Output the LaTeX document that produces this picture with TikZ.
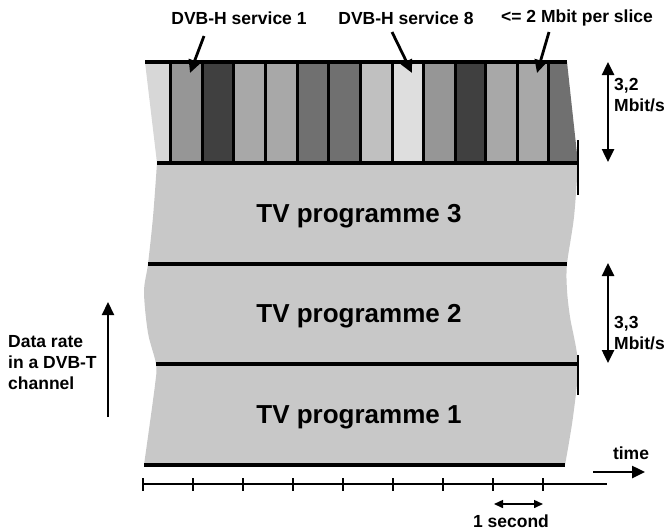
\documentclass[tikz,border=0pt]{standalone}
\usepackage{fontspec}
\setmainfont{Liberation Sans}
\usetikzlibrary{arrows.meta, positioning}
\definecolor{BandGray}{RGB}{200,200,200}
\definecolor{SlicePale}{RGB}{222,222,222}
\definecolor{SliceLight}{RGB}{215,215,215}
\definecolor{SliceSoft}{RGB}{192,192,192}
\definecolor{SliceMid}{RGB}{168,168,168}
\definecolor{SliceMed}{RGB}{150,150,150}
\definecolor{SliceDark}{RGB}{112,112,112}
\definecolor{SliceDeep}{RGB}{64,64,64}

\begin{document}
\begin{tikzpicture}[x=1pt, y=-1pt,
            lbl/.style={font=\fontsize{17.5}{21}\selectfont\bfseries, inner sep=0pt},
            prog/.style={font=\fontsize{26}{30}\selectfont\bfseries},
            rule/.style={line width=3.5pt},
            divider/.style={line width=3pt},
            pointer/.style={-{Triangle[length=13pt,width=12pt]}, line width=2.8pt},
            span/.style={{Triangle[length=13pt,width=12pt]}-{Triangle[length=13pt,width=12pt]}, line width=2.5pt},
            axis/.style={line width=2.2pt}
        ]
        \useasboundingbox (0,0) rectangle (668,531);

        % DVB-T channel body
        \fill[BandGray] plot[smooth] coordinates {(157,163) (153,217) (148,264) (144,292) (148,333) (156,364) (155,385) (144,465)}
            -- plot[smooth] coordinates {(565,465) (573,417) (578,364) (570,317) (567,290) (567,264) (574,217) (578,163)} -- cycle;

        % Time slices of the DVB-H services
        \fill[SliceLight] (145,62) -- (170,62) -- (170,163) -- (157,163) -- cycle;
        \fill[SliceMed] (170,62) rectangle (202,163);
        \fill[SliceDeep] (202,62) rectangle (233,163);
        \fill[SliceMid] (233,62) rectangle (265,163);
        \fill[SliceMid] (265,62) rectangle (297,163);
        \fill[SliceDark] (297,62) rectangle (328,163);
        \fill[SliceDark] (328,62) rectangle (360,163);
        \fill[SliceSoft] (360,62) rectangle (392,163);
        \fill[SlicePale] (392,62) rectangle (423,163);
        \fill[SliceMed] (423,62) rectangle (455,163);
        \fill[SliceDeep] (455,62) rectangle (485,163);
        \fill[SliceMid] (485,62) rectangle (517,163);
        \fill[SliceMid] (517,62) rectangle (548,163);
        \fill[SliceDark] (548,62) -- (567,62) -- (578,163) -- (548,163) -- cycle;
        \draw[divider] (170,62) -- (170,163) (202,62) -- (202,163) (233,62) -- (233,163)
            (265,62) -- (265,163) (297,62) -- (297,163) (328,62) -- (328,163) (360,62) -- (360,163)
            (392,62) -- (392,163) (423,62) -- (423,163) (455,62) -- (455,163) (485,62) -- (485,163)
            (517,62) -- (517,163) (548,62) -- (548,163);

        % Borders between the programmes
        \draw[rule] (145,62) -- (567,62);
        \draw[rule] (157,163) -- (578,163);
        \draw[rule] (148,264) -- (567,264);
        \draw[rule] (156,364) -- (578,364);
        \draw[rule] (144,465) -- (565,465);
        \draw[line width=1.5pt] (578,140) -- (578,195);
        \draw[line width=1.5pt] (578,355) -- (578,395);

        % Programme names
        \node[prog] (tv3) at (359,216) {TV programme 3};
        \node[prog] (tv2) at (359,316) {TV programme 2};
        \node[prog] (tv1) at (359,417) {TV programme 1};

        % Labels pointing at the slices
        \node[lbl] (srv1) at (239,18) {DVB-H service 1};
        \node[lbl] (srv8) at (406,18) {DVB-H service 8};
        \node[lbl] (slc) at (577,18) {<= 2 Mbit per slice};
        \coordinate (srv1tail) at (204,36);
        \coordinate (srv1tip) at (190,73);
        \coordinate (srv8tail) at (392,32);
        \coordinate (srv8tip) at (412,73);
        \coordinate (slctail) at (549,32);
        \coordinate (slctip) at (537,73);
        \draw[pointer] (srv1tail) -- (srv1tip);
        \draw[pointer] (srv8tail) -- (srv8tip);
        \draw[pointer] (slctail) -- (slctip);

        % Data rates on the right
        \coordinate (r32top) at (608,62);
        \coordinate (r32bot) at (608,162);
        \draw[span] (r32top) -- (r32bot);
        \node[lbl, anchor=west, align=left] (r32) at (614,95) {3,2\\Mbit/s};
        \coordinate (r33top) at (608,263);
        \coordinate (r33bot) at (608,363);
        \draw[span] (r33top) -- (r33bot);
        \node[lbl, anchor=west, align=left] (r33) at (614,333) {3,3\\Mbit/s};

        % Data rate axis
        \node[lbl, anchor=west, align=left] (rate) at (8,363) {Data rate\\in a DVB-T\\channel};
        \coordinate (ratelow) at (108,417);
        \coordinate (ratehigh) at (108,302);
        \draw[pointer, line width=2.2pt] (ratelow) -- (ratehigh);

        % Time axis
        \coordinate (t0) at (143,484);
        \coordinate (tend) at (607,484);
        \draw[axis] (t0) -- (tend);
        \draw[axis] (143,478) -- (143,491) (193,478) -- (193,491) (243,478) -- (243,491)
            (293,478) -- (293,491) (343,478) -- (343,491) (393,478) -- (393,491)
            (443,478) -- (443,491) (493,478) -- (493,491) (543,478) -- (543,491);
        \node[lbl] (t) at (631,453) {time};
        \coordinate (tfrom) at (593,472);
        \coordinate (tto) at (645,472);
        \draw[pointer, line width=2.5pt] (tfrom) -- (tto);
        \coordinate (secl) at (494,504);
        \coordinate (secr) at (543,504);
        \draw[{Triangle[length=9pt,width=8pt]}-{Triangle[length=9pt,width=8pt]}, line width=1.5pt] (secl) -- (secr);
        \node[lbl] (sec) at (511,521) {1 second};

\end{tikzpicture}
\end{document}
